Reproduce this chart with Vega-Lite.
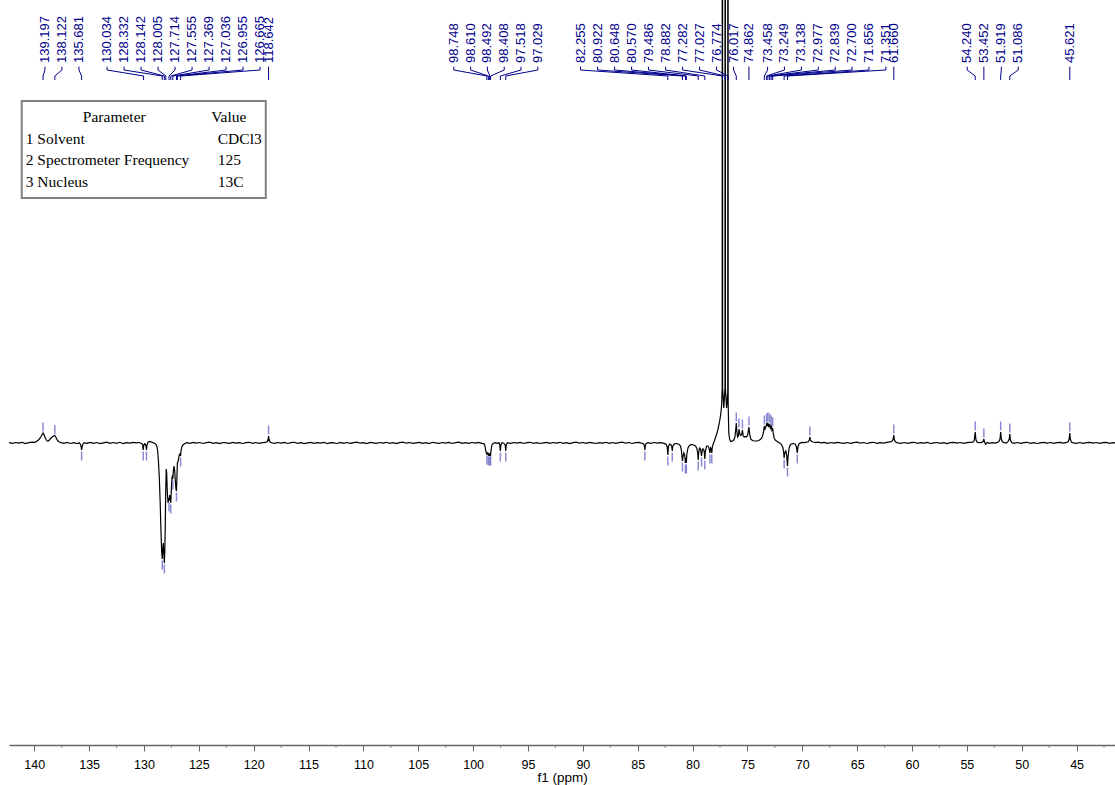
{
  "$schema": "https://vega.github.io/schema/vega-lite/v6.json",
  "width": 1106,
  "height": 745,
  "autosize": {"type": "none"},
  "padding": {"left": 9, "top": 0, "right": 0, "bottom": 40},
  "background": "white",
  "config": {"view": {"stroke": null}, "font": "Liberation Sans"},
  "datasets": {
    "spectrum": [
      {"ppm":142.3,"int":0.3},{"ppm":142.0,"int":-0.4},{"ppm":141.7,"int":0.5},{"ppm":141.4,"int":-0.2},{"ppm":141.1,"int":0.7},{"ppm":140.8,"int":-0.5},{"ppm":140.5,"int":0.4},{"ppm":140.2,"int":0.9},{"ppm":139.95,"int":0.6},
      {"ppm":139.8,"int":1.5},{"ppm":139.65,"int":2.8},{"ppm":139.5,"int":4.5},{"ppm":139.38,"int":6.5},{"ppm":139.28,"int":8.5},{"ppm":139.197,"int":10},{"ppm":139.12,"int":8.5},{"ppm":139.03,"int":6},{"ppm":138.92,"int":3.5},{"ppm":138.82,"int":2},{"ppm":138.74,"int":1.8},
      {"ppm":138.62,"int":3},{"ppm":138.48,"int":4.8},{"ppm":138.35,"int":6},{"ppm":138.22,"int":7.2},{"ppm":138.122,"int":7.5},{"ppm":138.04,"int":6},{"ppm":137.95,"int":4},{"ppm":137.85,"int":2.2},{"ppm":137.72,"int":1},{"ppm":137.55,"int":0.4},
      {"ppm":137.3,"int":-0.3},{"ppm":137.0,"int":0.6},{"ppm":136.7,"int":-0.5},{"ppm":136.4,"int":0.3},{"ppm":136.1,"int":-0.6},{"ppm":135.9,"int":0.2},{"ppm":135.78,"int":-1.5},{"ppm":135.72,"int":-4},{"ppm":135.681,"int":-7},{"ppm":135.64,"int":-4},{"ppm":135.58,"int":-1.2},{"ppm":135.45,"int":0.3},
      {"ppm":135.2,"int":-0.4},{"ppm":134.9,"int":0.6},{"ppm":134.6,"int":-0.3},{"ppm":134.3,"int":0.5},{"ppm":134.0,"int":-0.6},{"ppm":133.7,"int":0.2},{"ppm":133.4,"int":0.8},{"ppm":133.1,"int":-0.4},{"ppm":132.8,"int":0.5},{"ppm":132.5,"int":-0.3},{"ppm":132.2,"int":0.7},{"ppm":131.9,"int":-0.5},{"ppm":131.6,"int":0.4},{"ppm":131.3,"int":-0.2},{"ppm":131.0,"int":0.6},{"ppm":130.7,"int":0.1},{"ppm":130.45,"int":0.5},{"ppm":130.2,"int":-0.5},
      {"ppm":130.12,"int":-2},{"ppm":130.07,"int":-7},{"ppm":130.02,"int":-2.5},{"ppm":129.95,"int":-0.8},{"ppm":129.87,"int":-1.5},{"ppm":129.81,"int":-3},{"ppm":129.77,"int":-7},{"ppm":129.73,"int":-2.5},{"ppm":129.65,"int":0.5},{"ppm":129.5,"int":1.5},{"ppm":129.35,"int":1.2},{"ppm":129.2,"int":0.4},{"ppm":129.05,"int":-0.3},{"ppm":128.92,"int":-1.2},{"ppm":128.82,"int":-3.5},
      {"ppm":128.75,"int":-8},{"ppm":128.68,"int":-18},{"ppm":128.6,"int":-35},{"ppm":128.52,"int":-60},{"ppm":128.45,"int":-88},{"ppm":128.39,"int":-108},{"ppm":128.332,"int":-116},{"ppm":128.28,"int":-104},{"ppm":128.23,"int":-100},{"ppm":128.18,"int":-112},{"ppm":128.142,"int":-120},{"ppm":128.1,"int":-108},{"ppm":128.06,"int":-85},{"ppm":128.02,"int":-50},
      {"ppm":127.97,"int":-26},{"ppm":127.93,"int":-30},{"ppm":127.86,"int":-52},{"ppm":127.8,"int":-60},{"ppm":127.75,"int":-55},{"ppm":127.714,"int":-58},{"ppm":127.66,"int":-52},{"ppm":127.6,"int":-56},{"ppm":127.555,"int":-60},{"ppm":127.5,"int":-45},{"ppm":127.44,"int":-34},{"ppm":127.4,"int":-33},{"ppm":127.369,"int":-36},{"ppm":127.32,"int":-28},{"ppm":127.26,"int":-23},
      {"ppm":127.2,"int":-28},{"ppm":127.14,"int":-38},{"ppm":127.08,"int":-46},{"ppm":127.036,"int":-48},{"ppm":127.0,"int":-36},{"ppm":126.955,"int":-20},{"ppm":126.91,"int":-19},{"ppm":126.85,"int":-16},{"ppm":126.78,"int":-12},{"ppm":126.72,"int":-11},{"ppm":126.665,"int":-13},{"ppm":126.62,"int":-8},{"ppm":126.55,"int":-4},{"ppm":126.45,"int":-2},
      {"ppm":126.3,"int":-0.8},{"ppm":126.1,"int":0.3},{"ppm":125.8,"int":-0.4},{"ppm":125.5,"int":0.6},{"ppm":125.2,"int":-0.2},{"ppm":124.9,"int":0.5},{"ppm":124.6,"int":-0.5},{"ppm":124.3,"int":0.3},{"ppm":124.0,"int":0.8},{"ppm":123.7,"int":-0.3},{"ppm":123.4,"int":0.4},{"ppm":123.1,"int":-0.6},{"ppm":122.8,"int":0.5},{"ppm":122.5,"int":0.1},{"ppm":122.2,"int":-0.4},{"ppm":121.9,"int":0.6},{"ppm":121.6,"int":-0.2},{"ppm":121.3,"int":0.4},{"ppm":121.0,"int":-0.5},{"ppm":120.7,"int":0.3},{"ppm":120.4,"int":0.7},{"ppm":120.1,"int":-0.3},{"ppm":119.8,"int":0.5},{"ppm":119.5,"int":-0.4},{"ppm":119.2,"int":0.3},{"ppm":118.9,"int":0.6},
      {"ppm":118.76,"int":1.5},{"ppm":118.69,"int":3.5},{"ppm":118.642,"int":7},{"ppm":118.6,"int":3.5},{"ppm":118.53,"int":1.2},{"ppm":118.4,"int":0.2},
      {"ppm":118.1,"int":-0.4},{"ppm":117.8,"int":0.5},{"ppm":117.5,"int":-0.2},{"ppm":117.2,"int":0.6},{"ppm":116.9,"int":-0.5},{"ppm":116.6,"int":0.3},{"ppm":116.3,"int":0.7},{"ppm":116.0,"int":-0.3},{"ppm":115.7,"int":0.4},{"ppm":115.4,"int":-0.6},{"ppm":115.1,"int":0.2},{"ppm":114.8,"int":0.6},{"ppm":114.5,"int":-0.4},{"ppm":114.2,"int":0.3},{"ppm":113.9,"int":-0.2},{"ppm":113.6,"int":0.7},{"ppm":113.3,"int":-0.5},{"ppm":113.0,"int":0.4},{"ppm":112.7,"int":0.1},{"ppm":112.4,"int":-0.5},{"ppm":112.1,"int":0.6},{"ppm":111.8,"int":-0.3},{"ppm":111.5,"int":0.5},{"ppm":111.2,"int":-0.4},{"ppm":110.9,"int":0.3},{"ppm":110.6,"int":0.8},{"ppm":110.3,"int":-0.2},{"ppm":110.0,"int":0.4},
      {"ppm":109.7,"int":-0.5},{"ppm":109.4,"int":0.6},{"ppm":109.1,"int":0.1},{"ppm":108.8,"int":-0.4},{"ppm":108.5,"int":0.5},{"ppm":108.2,"int":-0.2},{"ppm":107.9,"int":0.7},{"ppm":107.6,"int":-0.3},{"ppm":107.3,"int":0.4},{"ppm":107.0,"int":-0.6},{"ppm":106.7,"int":0.3},{"ppm":106.4,"int":0.8},{"ppm":106.1,"int":-0.2},{"ppm":105.8,"int":0.5},{"ppm":105.5,"int":-0.4},{"ppm":105.2,"int":0.2},{"ppm":104.9,"int":0.6},{"ppm":104.6,"int":-0.3},{"ppm":104.3,"int":0.4},{"ppm":104.0,"int":-0.5},{"ppm":103.7,"int":0.7},{"ppm":103.4,"int":0.1},{"ppm":103.1,"int":-0.4},{"ppm":102.8,"int":0.5},{"ppm":102.5,"int":-0.2},{"ppm":102.2,"int":0.6},{"ppm":101.9,"int":-0.5},{"ppm":101.6,"int":0.3},{"ppm":101.3,"int":0.8},{"ppm":101.0,"int":-0.3},{"ppm":100.7,"int":0.4},{"ppm":100.4,"int":-0.4},{"ppm":100.1,"int":0.5},{"ppm":99.8,"int":-0.2},{"ppm":99.5,"int":0.6},{"ppm":99.2,"int":-0.3},
      {"ppm":99.0,"int":-0.8},{"ppm":98.92,"int":-3},{"ppm":98.85,"int":-8},{"ppm":98.79,"int":-10.5},{"ppm":98.748,"int":-11},{"ppm":98.7,"int":-10},{"ppm":98.65,"int":-11.5},{"ppm":98.61,"int":-12},{"ppm":98.57,"int":-10.5},{"ppm":98.53,"int":-11},{"ppm":98.492,"int":-12},{"ppm":98.45,"int":-11},{"ppm":98.408,"int":-12},{"ppm":98.36,"int":-7},{"ppm":98.3,"int":-2.5},{"ppm":98.2,"int":-0.6},{"ppm":98.0,"int":0.4},{"ppm":97.8,"int":-0.3},{"ppm":97.64,"int":0.2},
      {"ppm":97.57,"int":-2},{"ppm":97.518,"int":-8},{"ppm":97.47,"int":-2},{"ppm":97.38,"int":0.3},{"ppm":97.2,"int":-0.2},{"ppm":97.08,"int":-2},{"ppm":97.029,"int":-8},{"ppm":96.98,"int":-2},{"ppm":96.88,"int":0.3},
      {"ppm":96.6,"int":-0.4},{"ppm":96.3,"int":0.5},{"ppm":96.0,"int":-0.2},{"ppm":95.7,"int":0.6},{"ppm":95.4,"int":-0.5},{"ppm":95.1,"int":0.3},{"ppm":94.8,"int":0.7},{"ppm":94.5,"int":-0.3},{"ppm":94.2,"int":0.4},{"ppm":93.9,"int":-0.5},{"ppm":93.6,"int":0.2},{"ppm":93.3,"int":0.6},{"ppm":93.0,"int":-0.4},{"ppm":92.7,"int":0.5},{"ppm":92.4,"int":-0.1},{"ppm":92.1,"int":0.7},{"ppm":91.8,"int":-0.3},{"ppm":91.5,"int":0.4},{"ppm":91.2,"int":-0.6},{"ppm":90.9,"int":0.3},{"ppm":90.6,"int":0.8},{"ppm":90.3,"int":-0.2},{"ppm":90.0,"int":0.5},{"ppm":89.7,"int":-0.4},{"ppm":89.4,"int":0.6},{"ppm":89.1,"int":0.1},{"ppm":88.8,"int":-0.5},{"ppm":88.5,"int":0.4},{"ppm":88.2,"int":-0.2},{"ppm":87.9,"int":0.7},{"ppm":87.6,"int":-0.3},{"ppm":87.3,"int":0.5},{"ppm":87.0,"int":-0.4},{"ppm":86.7,"int":0.3},{"ppm":86.4,"int":0.8},{"ppm":86.1,"int":-0.2},{"ppm":85.8,"int":0.5},{"ppm":85.5,"int":-0.5},{"ppm":85.2,"int":0.3},{"ppm":84.9,"int":0.6},{"ppm":84.6,"int":-0.2},
      {"ppm":84.45,"int":-1},{"ppm":84.39,"int":-3},{"ppm":84.35,"int":-7},{"ppm":84.31,"int":-3},{"ppm":84.25,"int":-0.8},{"ppm":84.1,"int":0.4},{"ppm":83.8,"int":-0.3},{"ppm":83.5,"int":0.5},{"ppm":83.2,"int":-0.2},{"ppm":82.9,"int":0.4},{"ppm":82.6,"int":-0.4},
      {"ppm":82.4,"int":-1.5},{"ppm":82.31,"int":-4},{"ppm":82.255,"int":-12},{"ppm":82.2,"int":-4},{"ppm":82.1,"int":-1},{"ppm":81.97,"int":-1.8},{"ppm":81.9,"int":-3.5},{"ppm":81.85,"int":-8},{"ppm":81.8,"int":-3},{"ppm":81.65,"int":-0.8},{"ppm":81.45,"int":-0.5},{"ppm":81.25,"int":-1.2},{"ppm":81.1,"int":-3},{"ppm":81.02,"int":-7},{"ppm":80.96,"int":-14},{"ppm":80.922,"int":-18},{"ppm":80.88,"int":-14},{"ppm":80.8,"int":-10},{"ppm":80.72,"int":-12},{"ppm":80.648,"int":-20},{"ppm":80.61,"int":-15},{"ppm":80.57,"int":-20},{"ppm":80.52,"int":-11},{"ppm":80.42,"int":-5},{"ppm":80.28,"int":-2.5},{"ppm":80.1,"int":-1.5},{"ppm":79.9,"int":-2},{"ppm":79.72,"int":-3},{"ppm":79.6,"int":-6},{"ppm":79.53,"int":-10},{"ppm":79.486,"int":-17},{"ppm":79.44,"int":-9},{"ppm":79.36,"int":-5},{"ppm":79.28,"int":-6},{"ppm":79.18,"int":-13},{"ppm":79.1,"int":-6},{"ppm":79.0,"int":-6},{"ppm":78.93,"int":-9},{"ppm":78.882,"int":-16},{"ppm":78.83,"int":-8},{"ppm":78.72,"int":-3},{"ppm":78.6,"int":-3},{"ppm":78.5,"int":-5},{"ppm":78.42,"int":-10},{"ppm":78.35,"int":-5},{"ppm":78.29,"int":-6},{"ppm":78.25,"int":-10},{"ppm":78.2,"int":-4},{"ppm":78.12,"int":-1},
      {"ppm":78.03,"int":1.5},{"ppm":77.92,"int":5},{"ppm":77.8,"int":9},{"ppm":77.7,"int":13},{"ppm":77.6,"int":18},{"ppm":77.5,"int":24},{"ppm":77.42,"int":30},{"ppm":77.35,"int":38},{"ppm":77.3,"int":55},{"ppm":77.282,"int":3000},{"ppm":77.265,"int":55},{"ppm":77.155,"int":35},{"ppm":77.045,"int":55},{"ppm":77.027,"int":3000},{"ppm":77.01,"int":55},{"ppm":76.9,"int":35},{"ppm":76.792,"int":50},{"ppm":76.774,"int":3000},{"ppm":76.757,"int":40},{"ppm":76.7,"int":10},{"ppm":76.62,"int":3.5},{"ppm":76.52,"int":1.5},{"ppm":76.4,"int":1.8},{"ppm":76.25,"int":3},{"ppm":76.14,"int":6},{"ppm":76.06,"int":14},{"ppm":76.017,"int":20},{"ppm":75.97,"int":12},{"ppm":75.9,"int":6},{"ppm":75.83,"int":7},{"ppm":75.77,"int":14},{"ppm":75.7,"int":9},{"ppm":75.6,"int":7.5},{"ppm":75.52,"int":9},{"ppm":75.46,"int":13},{"ppm":75.38,"int":7},{"ppm":75.28,"int":6},{"ppm":75.2,"int":6.5},{"ppm":75.08,"int":6},{"ppm":74.98,"int":8},{"ppm":74.92,"int":12},{"ppm":74.862,"int":16},{"ppm":74.8,"int":9},{"ppm":74.7,"int":4},{"ppm":74.55,"int":2.5},{"ppm":74.35,"int":2},{"ppm":74.15,"int":2.2},{"ppm":73.95,"int":2.5},{"ppm":73.78,"int":4},{"ppm":73.65,"int":6},{"ppm":73.55,"int":10},
      {"ppm":73.458,"int":17},{"ppm":73.4,"int":14},{"ppm":73.32,"int":16},{"ppm":73.249,"int":19},{"ppm":73.2,"int":17},{"ppm":73.138,"int":20},{"ppm":73.06,"int":16},{"ppm":72.977,"int":19},{"ppm":72.91,"int":15},{"ppm":72.839,"int":17},{"ppm":72.77,"int":13},{"ppm":72.7,"int":15},{"ppm":72.64,"int":9},{"ppm":72.55,"int":4.5},{"ppm":72.42,"int":2.5},{"ppm":72.28,"int":1.5},{"ppm":72.15,"int":0.5},{"ppm":72.02,"int":-0.3},{"ppm":71.9,"int":-1.5},{"ppm":71.78,"int":-4},{"ppm":71.7,"int":-9},{"ppm":71.656,"int":-15},{"ppm":71.6,"int":-10},{"ppm":71.5,"int":-8},{"ppm":71.42,"int":-12},{"ppm":71.351,"int":-23},{"ppm":71.3,"int":-14},{"ppm":71.2,"int":-5},{"ppm":71.08,"int":-1.5},{"ppm":70.95,"int":-0.8},{"ppm":70.8,"int":-0.5},{"ppm":70.65,"int":-1},{"ppm":70.53,"int":-4},{"ppm":70.46,"int":-10},{"ppm":70.4,"int":-4},{"ppm":70.3,"int":-1},{"ppm":70.15,"int":0.2},{"ppm":70.0,"int":0.6},{"ppm":69.8,"int":0.3},{"ppm":69.6,"int":0.8},{"ppm":69.45,"int":1.3},{"ppm":69.36,"int":3},{"ppm":69.31,"int":6},{"ppm":69.26,"int":3},{"ppm":69.15,"int":1.5},{"ppm":69.0,"int":1},{"ppm":68.8,"int":0.4},{"ppm":68.55,"int":0.9},
      {"ppm":68.3,"int":0.2},{"ppm":68.0,"int":0.6},{"ppm":67.7,"int":-0.3},{"ppm":67.4,"int":0.5},{"ppm":67.1,"int":-0.2},{"ppm":66.8,"int":0.7},{"ppm":66.5,"int":0.1},{"ppm":66.2,"int":-0.4},{"ppm":65.9,"int":0.5},{"ppm":65.6,"int":-0.3},{"ppm":65.3,"int":0.4},{"ppm":65.0,"int":0.8},{"ppm":64.7,"int":-0.2},{"ppm":64.4,"int":0.5},{"ppm":64.1,"int":-0.5},{"ppm":63.8,"int":0.3},{"ppm":63.5,"int":0.7},{"ppm":63.2,"int":-0.3},{"ppm":62.9,"int":0.4},{"ppm":62.6,"int":-0.2},{"ppm":62.3,"int":0.6},{"ppm":62.0,"int":1.2},{"ppm":61.85,"int":1.5},{"ppm":61.74,"int":3},{"ppm":61.66,"int":8},{"ppm":61.6,"int":3},{"ppm":61.5,"int":1},{"ppm":61.3,"int":0.2},
      {"ppm":61.0,"int":-0.4},{"ppm":60.7,"int":0.5},{"ppm":60.4,"int":-0.3},{"ppm":60.1,"int":0.3},{"ppm":59.8,"int":0.7},{"ppm":59.5,"int":-0.4},{"ppm":59.2,"int":0.4},{"ppm":58.9,"int":-0.2},{"ppm":58.6,"int":0.6},{"ppm":58.3,"int":-0.5},{"ppm":58.0,"int":0.2},{"ppm":57.7,"int":0.5},{"ppm":57.4,"int":-0.3},{"ppm":57.1,"int":0.4},{"ppm":56.8,"int":-0.6},{"ppm":56.5,"int":0.3},{"ppm":56.2,"int":0.7},{"ppm":55.9,"int":-0.2},{"ppm":55.6,"int":0.5},{"ppm":55.3,"int":-0.4},{"ppm":55.0,"int":0.3},{"ppm":54.7,"int":0.6},{"ppm":54.45,"int":0.8},{"ppm":54.33,"int":2.5},{"ppm":54.24,"int":11},{"ppm":54.17,"int":3},{"ppm":54.05,"int":0.6},{"ppm":53.85,"int":0.3},{"ppm":53.65,"int":0.6},{"ppm":53.52,"int":1.5},{"ppm":53.452,"int":4},{"ppm":53.4,"int":1.2},{"ppm":53.3,"int":-1.2},{"ppm":53.15,"int":0.5},{"ppm":52.95,"int":-0.3},{"ppm":52.7,"int":0.4},{"ppm":52.45,"int":-0.2},{"ppm":52.2,"int":0.6},{"ppm":52.05,"int":2},{"ppm":51.98,"int":4},{"ppm":51.919,"int":11},{"ppm":51.86,"int":4},{"ppm":51.76,"int":1.2},{"ppm":51.6,"int":0.4},{"ppm":51.4,"int":-0.2},{"ppm":51.24,"int":1.5},{"ppm":51.14,"int":4},{"ppm":51.086,"int":9},{"ppm":51.03,"int":3},{"ppm":50.92,"int":0.5},
      {"ppm":50.7,"int":-0.3},{"ppm":50.4,"int":0.5},{"ppm":50.1,"int":-0.4},{"ppm":49.8,"int":0.3},{"ppm":49.5,"int":0.7},{"ppm":49.2,"int":-0.3},{"ppm":48.9,"int":0.4},{"ppm":48.6,"int":-0.5},{"ppm":48.3,"int":0.2},{"ppm":48.0,"int":0.6},{"ppm":47.7,"int":-0.2},{"ppm":47.4,"int":0.5},{"ppm":47.1,"int":-0.4},{"ppm":46.8,"int":0.3},{"ppm":46.5,"int":0.7},{"ppm":46.2,"int":-0.1},{"ppm":45.9,"int":0.6},{"ppm":45.76,"int":1.5},{"ppm":45.68,"int":4},{"ppm":45.621,"int":10},{"ppm":45.57,"int":4},{"ppm":45.48,"int":1},{"ppm":45.3,"int":0.2},{"ppm":45.0,"int":-0.4},{"ppm":44.7,"int":0.5},{"ppm":44.4,"int":-0.3},{"ppm":44.1,"int":0.4},{"ppm":43.8,"int":0.7},{"ppm":43.5,"int":-0.2},{"ppm":43.2,"int":0.5},{"ppm":42.9,"int":-0.4},{"ppm":42.6,"int":0.3},{"ppm":42.3,"int":0.6},{"ppm":42.0,"int":-0.3},{"ppm":41.7,"int":0.4},{"ppm":41.5,"int":0.1}
    ],
    "peaks": [
      {"label":"139.197","ppm":139.197,"lx":139.025},{"label":"138.122","ppm":138.122,"lx":137.475},{"label":"135.681","ppm":135.681,"lx":135.925},
      {"label":"130.034","ppm":130.034,"lx":133.364},{"label":"128.332","ppm":128.332,"lx":131.814},{"label":"128.142","ppm":128.142,"lx":130.264},{"label":"128.005","ppm":128.005,"lx":128.715},{"label":"127.714","ppm":127.714,"lx":127.165},{"label":"127.555","ppm":127.555,"lx":125.615},{"label":"127.369","ppm":127.369,"lx":124.066},{"label":"127.036","ppm":127.036,"lx":122.516},{"label":"126.955","ppm":126.955,"lx":120.967},{"label":"126.665","ppm":126.665,"lx":119.417},{"label":"118.642","ppm":118.642,"lx":118.642},
      {"label":"98.748","ppm":98.748,"lx":101.76},{"label":"98.610","ppm":98.61,"lx":100.228},{"label":"98.492","ppm":98.492,"lx":98.697},{"label":"98.408","ppm":98.408,"lx":97.166},{"label":"97.518","ppm":97.518,"lx":95.634},{"label":"97.029","ppm":97.029,"lx":94.102},
      {"label":"82.255","ppm":82.255,"lx":90.209},{"label":"80.922","ppm":80.922,"lx":88.66},{"label":"80.648","ppm":80.648,"lx":87.11},{"label":"80.570","ppm":80.57,"lx":85.56},{"label":"79.486","ppm":79.486,"lx":84.011},{"label":"78.882","ppm":78.882,"lx":82.461},{"label":"77.282","ppm":77.282,"lx":80.911},{"label":"77.027","ppm":77.027,"lx":79.362},{"label":"76.774","ppm":76.774,"lx":77.812},{"label":"76.017","ppm":76.017,"lx":76.262},{"label":"74.862","ppm":74.862,"lx":74.862},
      {"label":"73.458","ppm":73.458,"lx":73.163},{"label":"73.249","ppm":73.249,"lx":71.623},{"label":"73.138","ppm":73.138,"lx":70.082},{"label":"72.977","ppm":72.977,"lx":68.542},{"label":"72.839","ppm":72.839,"lx":67.001},{"label":"72.700","ppm":72.7,"lx":65.461},{"label":"71.656","ppm":71.656,"lx":63.92},{"label":"71.351","ppm":71.351,"lx":62.38},{"label":"61.660","ppm":61.66,"lx":61.66},
      {"label":"54.240","ppm":54.24,"lx":54.968},{"label":"53.452","ppm":53.452,"lx":53.452},{"label":"51.919","ppm":51.919,"lx":51.86},{"label":"51.086","ppm":51.086,"lx":50.319},{"label":"45.621","ppm":45.621,"lx":45.621}
    ],
    "markers": [
      {"ppm":139.197,"h":10},{"ppm":138.122,"h":7.5},{"ppm":118.642,"h":7},{"ppm":76.017,"h":20},{"ppm":75.77,"h":14},{"ppm":75.46,"h":13},{"ppm":74.862,"h":16},{"ppm":73.458,"h":17},{"ppm":73.249,"h":19},{"ppm":73.138,"h":20},{"ppm":72.977,"h":19},{"ppm":72.839,"h":17},{"ppm":72.7,"h":15},{"ppm":69.31,"h":6},{"ppm":61.66,"h":8},{"ppm":54.24,"h":11},{"ppm":53.452,"h":4},{"ppm":51.919,"h":11},{"ppm":51.086,"h":9},{"ppm":45.621,"h":10},
      {"ppm":135.681,"h":-7},{"ppm":130.07,"h":-7},{"ppm":129.77,"h":-7},{"ppm":128.332,"h":-116},{"ppm":128.142,"h":-120},{"ppm":127.714,"h":-58},{"ppm":127.555,"h":-60},{"ppm":127.369,"h":-36},{"ppm":127.036,"h":-48},{"ppm":126.665,"h":-13},
      {"ppm":98.748,"h":-11},{"ppm":98.61,"h":-12},{"ppm":98.492,"h":-12},{"ppm":98.408,"h":-12},{"ppm":97.518,"h":-8},{"ppm":97.029,"h":-8},{"ppm":84.35,"h":-7},{"ppm":82.255,"h":-12},{"ppm":81.85,"h":-8},{"ppm":80.922,"h":-18},{"ppm":80.648,"h":-20},{"ppm":80.57,"h":-20},{"ppm":79.486,"h":-17},{"ppm":79.18,"h":-13},{"ppm":78.882,"h":-16},{"ppm":78.42,"h":-10},{"ppm":78.25,"h":-10},{"ppm":71.656,"h":-15},{"ppm":71.351,"h":-23},{"ppm":70.46,"h":-10}
    ],
    "minorTicks": [
      {"ppm":137.5},{"ppm":132.5},{"ppm":127.5},{"ppm":122.5},{"ppm":117.5},{"ppm":112.5},{"ppm":107.5},{"ppm":102.5},{"ppm":97.5},{"ppm":92.5},{"ppm":87.5},{"ppm":82.5},{"ppm":77.5},{"ppm":72.5},{"ppm":67.5},{"ppm":62.5},{"ppm":57.5},{"ppm":52.5},{"ppm":47.5},{"ppm":42.5}
    ],
    "table": [
      {"row":0,"param":"Parameter","value":"Value"},
      {"row":1,"param":"1 Solvent","value":"CDCl3"},
      {"row":2,"param":"2 Spectrometer Frequency","value":"125"},
      {"row":3,"param":"3 Nucleus","value":"13C"}
    ]
  },
  "layer": [
    {
      "data": {"values": [{"box": "table"}]},
      "mark": {"type": "rect", "fill": "#ffffff", "stroke": "#808080", "strokeWidth": 2},
      "encoding": {
        "x": {"datum": 141.139, "type": "quantitative", "scale": {"domain": [41.5, 142.3], "reverse": true, "nice": false, "zero": false},
          "axis": {
            "values": [140,135,130,125,120,115,110,105,100,95,90,85,80,75,70,65,60,55,50,45],
            "format": "d",
            "tickSize": 6,
            "title": "f1 (ppm)",
            "orient": "bottom",
            "grid": false,
            "domainColor": "#666666", "domainWidth": 1.5,
            "tickColor": "#666666", "tickWidth": 1,
            "labelFont": "Liberation Sans", "labelFontSize": 12.5, "labelColor": "#000000", "labelPadding": 7,
            "labelOverlap": false, "labelFlush": false,
            "titleFont": "Liberation Sans", "titleFontSize": 13.5, "titleFontWeight": "normal", "titleColor": "#000000", "titlePadding": 0
          }
        },
        "x2": {"datum": 118.897},
        "y": {"datum": -0.744, "type": "quantitative", "scale": {"domain": [-5.442, 29.209], "reverse": true, "nice": false, "zero": false}, "axis": null},
        "y2": {"datum": 3.767}
      }
    },
    {
      "data": {"name": "table"},
      "transform": [{"filter": "datum.row === 0"}],
      "mark": {"type": "text", "align": "center", "baseline": "middle", "font": "Liberation Serif", "fontSize": 15.5, "color": "#000000"},
      "encoding": {
        "x": {"datum": 132.707, "type": "quantitative"},
        "y": {"field": "row", "type": "quantitative", "scale": {"domain": [-5.442, 29.209], "reverse": true, "nice": false, "zero": false}, "axis": null},
        "text": {"field": "param"}
      }
    },
    {
      "data": {"name": "table"},
      "transform": [{"filter": "datum.row === 0"}],
      "mark": {"type": "text", "align": "center", "baseline": "middle", "font": "Liberation Serif", "fontSize": 15.5, "color": "#000000"},
      "encoding": {
        "x": {"datum": 122.27, "type": "quantitative"},
        "y": {"field": "row", "type": "quantitative", "scale": {"domain": [-5.442, 29.209], "reverse": true, "nice": false, "zero": false}, "axis": null},
        "text": {"field": "value"}
      }
    },
    {
      "data": {"name": "table"},
      "transform": [{"filter": "datum.row > 0"}],
      "mark": {"type": "text", "align": "left", "baseline": "middle", "font": "Liberation Serif", "fontSize": 15.5, "color": "#000000"},
      "encoding": {
        "x": {"datum": 140.775, "type": "quantitative"},
        "y": {"field": "row", "type": "quantitative", "scale": {"domain": [-5.442, 29.209], "reverse": true, "nice": false, "zero": false}, "axis": null},
        "text": {"field": "param"}
      }
    },
    {
      "data": {"name": "table"},
      "transform": [{"filter": "datum.row > 0"}],
      "mark": {"type": "text", "align": "left", "baseline": "middle", "font": "Liberation Serif", "fontSize": 15.5, "color": "#000000"},
      "encoding": {
        "x": {"datum": 123.272, "type": "quantitative"},
        "y": {"field": "row", "type": "quantitative", "scale": {"domain": [-5.442, 29.209], "reverse": true, "nice": false, "zero": false}, "axis": null},
        "text": {"field": "value"}
      }
    },
    {
      "data": {"name": "minorTicks"},
      "mark": {"type": "tick", "orient": "vertical", "color": "#666666", "size": 3, "thickness": 1, "yOffset": 1.5},
      "encoding": {
        "x": {"field": "ppm", "type": "quantitative"},
        "y": {"datum": -302, "type": "quantitative", "scale": {"domain": [-302, 443], "nice": false, "zero": false}, "axis": null}
      }
    },
    {
      "data": {"name": "spectrum"},
      "mark": {"type": "line", "color": "#000000", "strokeWidth": 1.2, "clip": true},
      "encoding": {
        "x": {"field": "ppm", "type": "quantitative"},
        "y": {"field": "int", "type": "quantitative", "scale": {"domain": [-302, 443], "nice": false, "zero": false}, "axis": null}
      }
    },
    {
      "data": {"name": "markers"},
      "transform": [{"filter": "datum.h > 0"}],
      "mark": {"type": "tick", "orient": "vertical", "color": "#5a5ac0", "size": 9, "thickness": 1.5, "yOffset": -6},
      "encoding": {
        "x": {"field": "ppm", "type": "quantitative"},
        "y": {"field": "h", "type": "quantitative", "scale": {"domain": [-302, 443], "nice": false, "zero": false}, "axis": null}
      }
    },
    {
      "data": {"name": "markers"},
      "transform": [{"filter": "datum.h < 0"}],
      "mark": {"type": "tick", "orient": "vertical", "color": "#5a5ac0", "size": 9, "thickness": 1.5, "yOffset": 6},
      "encoding": {
        "x": {"field": "ppm", "type": "quantitative"},
        "y": {"field": "h", "type": "quantitative", "scale": {"domain": [-302, 443], "nice": false, "zero": false}, "axis": null}
      }
    },
    {
      "data": {"name": "peaks"},
      "mark": {"type": "rule", "color": "#00008b", "strokeWidth": 1},
      "encoding": {
        "x": {"field": "lx", "type": "quantitative"},
        "y": {"datum": 376.3, "type": "quantitative", "scale": {"domain": [-302, 443], "nice": false, "zero": false}, "axis": null},
        "y2": {"datum": 373}
      }
    },
    {
      "data": {"name": "peaks"},
      "mark": {"type": "rule", "color": "#00008b", "strokeWidth": 1},
      "encoding": {
        "x": {"field": "lx", "type": "quantitative"},
        "x2": {"field": "ppm"},
        "y": {"datum": 373, "type": "quantitative", "scale": {"domain": [-302, 443], "nice": false, "zero": false}, "axis": null},
        "y2": {"datum": 367}
      }
    },
    {
      "data": {"name": "peaks"},
      "mark": {"type": "rule", "color": "#00008b", "strokeWidth": 1},
      "encoding": {
        "x": {"field": "ppm", "type": "quantitative"},
        "y": {"datum": 367, "type": "quantitative", "scale": {"domain": [-302, 443], "nice": false, "zero": false}, "axis": null},
        "y2": {"datum": 363}
      }
    },
    {
      "data": {"name": "peaks"},
      "mark": {"type": "text", "angle": 270, "align": "left", "baseline": "middle", "font": "Liberation Sans", "fontSize": 13, "color": "#00008b"},
      "encoding": {
        "x": {"field": "lx", "type": "quantitative"},
        "y": {"datum": 380, "type": "quantitative", "scale": {"domain": [-302, 443], "nice": false, "zero": false}, "axis": null},
        "text": {"field": "label"}
      }
    }
  ],
  "resolve": {"scale": {"y": "independent"}}
}
